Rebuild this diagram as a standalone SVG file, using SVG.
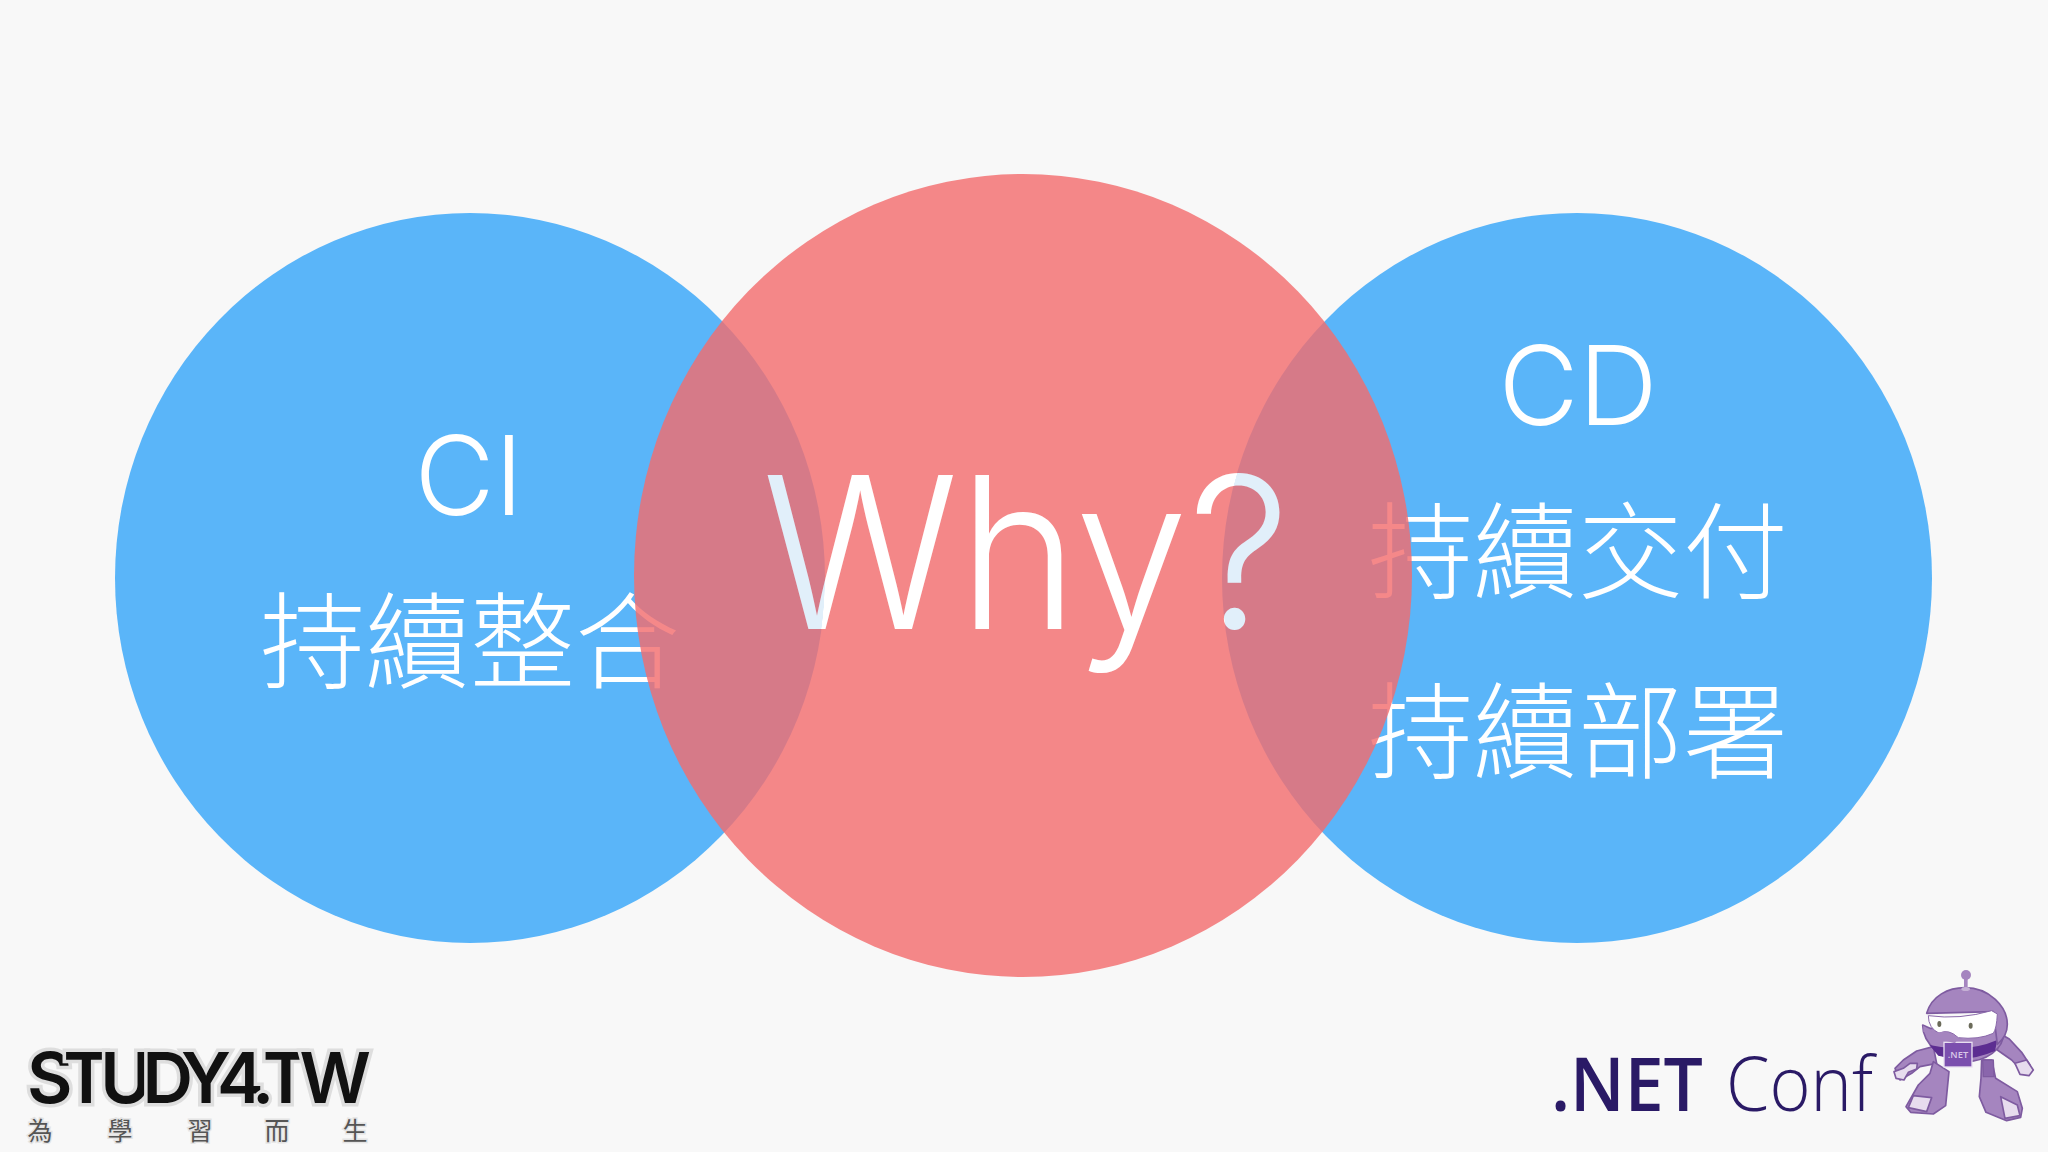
<svg xmlns="http://www.w3.org/2000/svg" width="2048" height="1152" viewBox="0 0 2048 1152">
<style>
.blue{fill:#5AB5F9}
.lat{font-family:"Inter","Liberation Sans",sans-serif;font-weight:270;fill:#fff;text-anchor:middle}
.cjk{font-family:"Noto Sans CJK TC",sans-serif;font-weight:300;fill:#fff;text-anchor:middle;font-size:105px}
.rb{fill:#A585BF;stroke:#7E5BA0;stroke-width:5;stroke-linejoin:round}
.rm{fill:#8A66AC;stroke:#7E5BA0;stroke-width:4;stroke-linejoin:round}
.rl{fill:#E7DCEE;stroke:#7E5BA0;stroke-width:5;stroke-linejoin:round}
.st{font-family:"Noto Sans CJK TC",sans-serif;font-size:25px;fill:#555;text-anchor:middle;stroke:#e4e4e4;stroke-width:3;paint-order:stroke}
</style>
<defs>
<radialGradient id="tl" gradientUnits="userSpaceOnUse" cx="0" cy="0" r="1" gradientTransform="translate(470 578) scale(355 365)">
<stop offset="0" stop-color="#E1EFFA"/><stop offset="0.999" stop-color="#E1EFFA"/><stop offset="1" stop-color="#fff"/>
</radialGradient>
<radialGradient id="tr" gradientUnits="userSpaceOnUse" cx="0" cy="0" r="1" gradientTransform="translate(1577 578) scale(355 365)">
<stop offset="0" stop-color="#E1EFFA"/><stop offset="0.999" stop-color="#E1EFFA"/><stop offset="1" stop-color="#fff"/>
</radialGradient>
</defs>
<rect width="2048" height="1152" fill="#F8F8F8"/>
<g id="ci">
<ellipse class="blue" cx="470" cy="578" rx="355" ry="365"/>
<text class="lat" x="469" y="515" font-size="110">CI</text>
<text class="cjk" x="470" y="680">持續整合</text>
</g>
<g id="cd">
<ellipse class="blue" cx="1577" cy="578" rx="355" ry="365"/>
<text class="lat" x="1578" y="425" font-size="110">CD</text>
<text class="cjk" x="1578" y="590">持續交付</text>
<text class="cjk" x="1578" y="770">持續部署</text>
</g>
<g id="why">
<ellipse cx="1023" cy="575.500" rx="389" ry="401.500" fill="#F36D6E" fill-opacity="0.81"/>
<text x="762" y="629" font-family="Inter,Liberation Sans,sans-serif" font-weight="280" fill="#fff" font-size="211" textLength="528" lengthAdjust="spacingAndGlyphs"><tspan fill="url(#tl)">W</tspan>hy<tspan fill="url(#tr)">?</tspan></text>
</g>
<g id="study4">
<text x="27" y="1103" font-family="Inter,Liberation Sans,sans-serif" font-weight="600" font-size="70" textLength="344" lengthAdjust="spacing" fill="#111" stroke="#dedede" stroke-width="7" paint-order="stroke">STUDY4.TW</text>
<text class="st" x="40" y="1140">為</text>
<text class="st" x="120" y="1140">學</text>
<text class="st" x="200" y="1140">習</text>
<text class="st" x="277" y="1140">而</text>
<text class="st" x="355" y="1140">生</text>
</g>
<g id="dotnetconf">
<text x="1551" y="1111" font-family="Open Sans,sans-serif" font-weight="600" font-size="75" textLength="152" lengthAdjust="spacingAndGlyphs" fill="#2A1A66">.NET</text>
<text x="1726" y="1111" font-family="Open Sans,sans-serif" font-weight="300" font-size="75" textLength="147" lengthAdjust="spacingAndGlyphs" fill="#2A1A66">Conf</text>
<g id="robot" transform="translate(1880 965) scale(0.3333)">
<path class="rb" d="M160 245 L110 258 L70 285 L45 310 L60 345 L95 325 L120 305 L170 295Z"/>
<path class="rl" d="M42 320 L70 310 L90 295 L112 295 L110 312 L85 322 L72 345 L48 340Z"/>
<path class="rb" d="M350 200 L388 222 L425 262 L450 300 L420 312 L395 285 L352 255Z"/>
<path class="rl" d="M405 295 L440 285 L460 315 L447 332 L420 328 Z"/>
<path class="rb" d="M160 290 L150 325 L115 360 L78 425 L92 442 L160 447 L197 422 L207 320Z"/>
<path class="rl" d="M100 392 L155 398 L140 440 L85 428Z"/>
<path class="rb" d="M305 285 L303 340 L298 395 L318 442 L380 467 L422 457 L427 430 L412 380 L347 340 L335 285Z"/>
<path class="rl" d="M362 395 L412 420 L420 452 L375 460Z"/>
<path class="rm" d="M308 285 L340 285 L342 335 L310 335Z"/>
<path class="rb" d="M128 180 C128 235 190 292 255 290 C318 290 372 252 370 205 L350 190 L150 190Z"/>
<path d="M148 240 Q260 265 352 225 L345 258 Q260 295 175 272Z" fill="#5C2D91"/>
<rect x="192" y="232" width="84" height="74" fill="#7B4FAE" stroke="#E8DFF0" stroke-width="4"/>
<text x="234" y="280" font-family="Open Sans,sans-serif" font-size="28" font-weight="600" fill="#D9C8E8" text-anchor="middle">.NET</text>
<path class="rb" d="M140 145 C155 92 205 68 255 68 C328 68 382 125 382 178 C382 202 372 222 352 238 L340 140Z"/>
<path d="M145 152 Q240 165 335 137 L352 147 Q350 190 340 205 Q295 225 235 218 Q205 190 178 205 Q145 190 145 152Z" fill="#fff" stroke="#8A68AA" stroke-width="3"/>
<path d="M130 182 L160 205 Q205 190 235 220 L225 235 Q170 220 130 200Z" fill="#A585BF"/>
<ellipse cx="178" cy="177" rx="6" ry="9" fill="#6B6B5A"/>
<ellipse cx="272" cy="182" rx="6" ry="9" fill="#6B6B5A"/>
<rect x="252" y="38" width="11" height="30" fill="#A585BF"/>
<ellipse cx="257" cy="72" rx="13" ry="6" fill="#C5B0D5"/>
<circle cx="258" cy="30" r="15" fill="#A585BF"/>
</g>
</g>
</svg>
